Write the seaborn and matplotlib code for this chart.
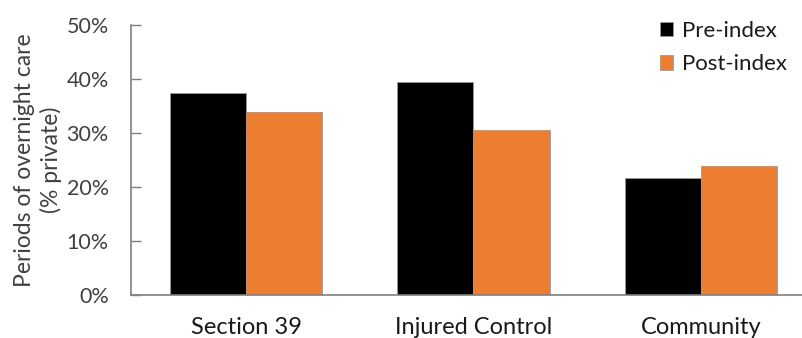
import matplotlib
matplotlib.use("Agg")
import matplotlib.pyplot as plt
import seaborn as sns
import pandas as pd
from matplotlib.ticker import PercentFormatter

groups = ["Section 39", "Injured Control", "Community"]
pre_index = [0.374, 0.394, 0.217]
post_index = [0.338, 0.305, 0.238]
series = ["Pre-index", "Post-index"]
y_ticks = [0, 0.1, 0.2, 0.3, 0.4, 0.5]

df = pd.DataFrame({
    "group": groups * 2,
    "value": pre_index + post_index,
    "period": [series[0]] * len(groups) + [series[1]] * len(groups),
})

sns.set_style("white")
plt.rcParams["font.family"] = ["Lato", "DejaVu Sans"]

W, H = 803, 338
fig = plt.figure(figsize=(W / 100, H / 100), dpi=100)
ax = fig.add_axes([131 / W, 43 / H, 1 - 131 / W, 270 / H])

palette = {"Pre-index": "#000000", "Post-index": "#ED7D31"}
sns.barplot(data=df, x="group", y="value", hue="period", order=groups,
            hue_order=series, palette=palette, width=0.67, gap=0,
            saturation=1, edgecolor="#9a9a9a", linewidth=0.6, ax=ax)

ax.set_ylim(0, 0.5)
ax.set_xlim(-0.507, 2.45)
ax.set_yticks(y_ticks)
ax.yaxis.set_major_formatter(PercentFormatter(1.0, decimals=0))
ax.tick_params(axis="y", direction="in", length=7, width=1, color="#7f7f7f",
               labelsize=15.5, labelcolor="#404040", pad=16, left=True)
ax.tick_params(axis="x", length=0, labelsize=17, labelcolor="#1a1a1a", pad=16)

for side in ["top", "right"]:
    ax.spines[side].set_visible(False)
for side in ["left", "bottom"]:
    ax.spines[side].set_color("#7f7f7f")
    ax.spines[side].set_linewidth(1.2)

ax.set_xlabel("")
ax.set_ylabel("Periods of overnight care\n(% private)", fontsize=16.5,
              color="#404040", linespacing=1.3, labelpad=3)

leg = ax.legend(loc="upper left", bbox_to_anchor=(660 / W, 1 - 21 / H),
                bbox_transform=fig.transFigure, frameon=False,
                fontsize=16, handlelength=0.6, handleheight=0.6,
                handletextpad=0.4, labelspacing=0.6, borderaxespad=0,
                borderpad=0)
for t in leg.get_texts():
    t.set_color("#1a1a1a")

fig.savefig("out.png", dpi=100)
